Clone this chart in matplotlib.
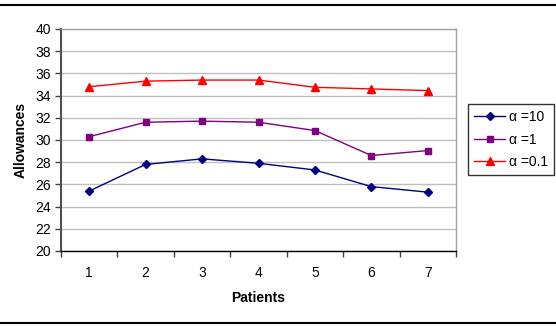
import matplotlib.pyplot as plt
from matplotlib.lines import Line2D
from matplotlib.ticker import FixedLocator, NullFormatter

plt.rcParams['font.family'] = ['Liberation Sans', 'DejaVu Sans']

# Données
patients = [1, 2, 3, 4, 5, 6, 7]
alpha_10 = [25.4, 27.8, 28.3, 27.9, 27.3, 25.8, 25.3]
alpha_1 = [30.3, 31.6, 31.7, 31.6, 30.85, 28.6, 29.05]
alpha_01 = [34.8, 35.3, 35.4, 35.4, 34.75, 34.6, 34.45]

fig = plt.figure(figsize=(5.56, 3.26), dpi=100)
ax = fig.add_axes([61 / 556, 1 - 251 / 326, 395 / 556, 222 / 326])

ax.plot(patients, alpha_10, color='#000080', marker='D', markersize=4.5, lw=1, label='α =10')
ax.plot(patients, alpha_1, color='#800080', marker='s', markersize=5, lw=1, label='α =1')
ax.plot(patients, alpha_01, color='#ff0000', marker='^', markersize=6, lw=1, label='α =0.1')

ax.set_xlim(0.5, 7.5)
ax.set_ylim(20, 40)
ax.set_yticks(range(20, 41, 2))
ax.set_xticks(patients)
ax.xaxis.set_minor_locator(FixedLocator([i + 0.5 for i in range(0, 8)]))
ax.xaxis.set_minor_formatter(NullFormatter())
ax.tick_params(axis='x', which='major', length=0, pad=11, labelsize=10)
ax.tick_params(axis='x', which='minor', length=4, width=1, direction='out', color='#404040')
ax.tick_params(axis='y', length=4, width=1, direction='out', pad=3, labelsize=10, color='#404040')

ax.grid(axis='y', color='#c0c0c0', lw=1)
ax.set_axisbelow(True)
for s in ['top', 'right']:
    ax.spines[s].set_color('#a0a0a0')
    ax.spines[s].set_linewidth(1)
ax.spines['left'].set_color('#505050')
ax.spines['left'].set_linewidth(1.5)
ax.spines['bottom'].set_color('black')
ax.spines['bottom'].set_linewidth(1)

ax.set_xlabel('Patients', fontsize=10, fontweight='bold', labelpad=8)
ax.set_ylabel('Allowances', fontsize=10, fontweight='bold', labelpad=6)

leg = ax.legend(loc='upper left', bbox_to_anchor=(468 / 556, 1 - 104 / 326), bbox_transform=fig.transFigure,
                fontsize=10, frameon=True, fancybox=False, edgecolor='black', handlelength=2.2,
                borderaxespad=0, labelspacing=0.6, handletextpad=0.3, borderpad=0.45)
leg.get_frame().set_linewidth(1)

# bordure du graphique
fig.add_artist(Line2D([0, 1], [1 - 5 / 326, 1 - 5 / 326], color='black', lw=1.5))
fig.add_artist(Line2D([0, 1], [1 - 323 / 326, 1 - 323 / 326], color='black', lw=1.5))

fig.savefig('out.png', dpi=100)
